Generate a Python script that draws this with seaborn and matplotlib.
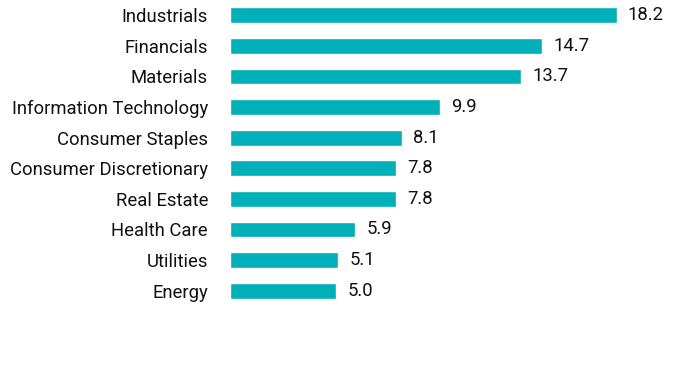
import matplotlib
matplotlib.use("Agg")
import matplotlib.pyplot as plt
import seaborn as sns
import pandas as pd

categories = ["Industrials", "Financials", "Materials", "Information Technology",
              "Consumer Staples", "Consumer Discretionary", "Real Estate",
              "Health Care", "Utilities", "Energy"]
values = [18.2, 14.7, 13.7, 9.9, 8.1, 7.8, 7.8, 5.9, 5.1, 5.0]

df = pd.DataFrame({"sector": categories, "weight": values})

sns.set_theme(style="white")
plt.rcParams["font.family"] = ["Roboto", "DejaVu Sans"]

fig = plt.figure(figsize=(6.96, 3.84), dpi=100)
ax = fig.add_axes([230 / 696, 1 - 306 / 384, 450 / 696, 306 / 384])
sns.barplot(data=df, x="weight", y="sector", color="#00B0B9", width=0.52,
            saturation=1, ax=ax, orient="h")
ax.set_xlim(0, 450 / 21.25)
ax.set_ylim(9.5, -0.5)
for i, v in enumerate(values):
    ax.annotate(f"{v:.1f}", xy=(v, i), xytext=(11, 0), textcoords="offset pixels",
                va="center", ha="left", fontsize=13.3, color="#111111")
ax.set_xlabel("")
ax.set_ylabel("")
ax.set_xticks([])
ax.tick_params(axis="y", length=0, pad=15.8, labelsize=13.3, labelcolor="#111111")
for s in ax.spines.values():
    s.set_visible(False)
fig.savefig("out.png", dpi=100)
